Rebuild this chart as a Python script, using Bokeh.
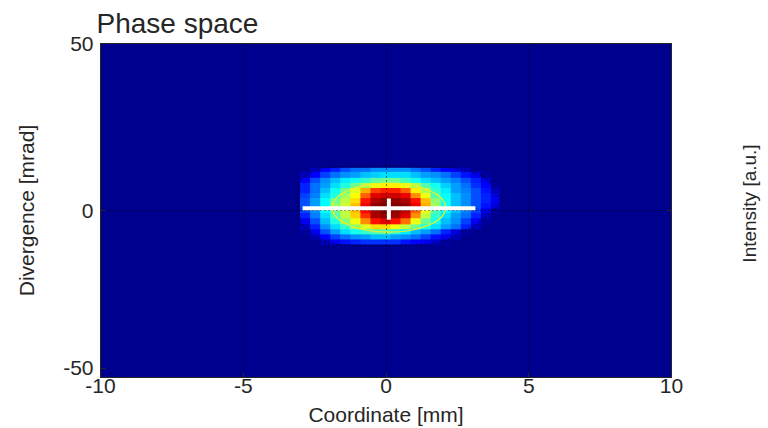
import numpy as np
from math import ceil
from bokeh.plotting import figure
from bokeh.layouts import row
from bokeh.models import LinearColorMapper, FixedTicker, LinearAxis, Range1d
from bokeh.embed import file_html
from bokeh.resources import INLINE

# ---------------- data ----------------
title_text = "Phase space"
x_label = "Coordinate [mm]"
y_label = "Divergence [mrad]"
z_label = "Intensity [a.u.]"
x_lim = (-10, 10)
y_lim = (-50, 50)
x_ticks = [-10, -5, 0, 5, 10]
x_tick_labels = ["-10", "-5", "0", "5", "10"]
y_ticks = [-50, 0, 50]
y_tick_labels = ["-50", "0", "50"]

# intensity cells (rows listed from top to bottom), normalised 0..1
grid_x_start = -3.01
grid_x_step = 0.35
grid_y_top = 12.77
grid_y_step = 1.53
intensity_rows = [
    [0.00, 0.05, 0.12, 0.15, 0.20, 0.22, 0.22, 0.25, 0.25, 0.25, 0.25, 0.22, 0.20, 0.15, 0.12, 0.10, 0.05, 0.00, 0.00, 0.00],
    [0.05, 0.12, 0.18, 0.22, 0.25, 0.28, 0.30, 0.32, 0.33, 0.34, 0.33, 0.30, 0.27, 0.25, 0.22, 0.18, 0.14, 0.10, 0.03, 0.00],
    [0.12, 0.20, 0.25, 0.30, 0.35, 0.38, 0.42, 0.46, 0.48, 0.47, 0.43, 0.38, 0.34, 0.30, 0.27, 0.24, 0.20, 0.15, 0.08, 0.00],
    [0.15, 0.22, 0.28, 0.34, 0.40, 0.47, 0.54, 0.60, 0.64, 0.64, 0.60, 0.54, 0.45, 0.38, 0.32, 0.27, 0.22, 0.17, 0.12, 0.03],
    [0.15, 0.22, 0.31, 0.38, 0.48, 0.58, 0.70, 0.80, 0.84, 0.84, 0.78, 0.64, 0.54, 0.42, 0.35, 0.28, 0.24, 0.20, 0.14, 0.05],
    [0.18, 0.24, 0.33, 0.40, 0.52, 0.62, 0.78, 0.90, 0.92, 0.92, 0.88, 0.72, 0.60, 0.45, 0.36, 0.30, 0.25, 0.20, 0.15, 0.08],
    [0.20, 0.28, 0.36, 0.48, 0.55, 0.65, 0.85, 0.95, 0.97, 0.98, 0.95, 0.85, 0.68, 0.50, 0.38, 0.30, 0.26, 0.20, 0.15, 0.10],
    [0.20, 0.28, 0.37, 0.50, 0.57, 0.68, 0.88, 0.97, 1.00, 1.00, 0.97, 0.88, 0.70, 0.52, 0.38, 0.30, 0.26, 0.20, 0.14, 0.08],
    [0.18, 0.26, 0.36, 0.48, 0.56, 0.68, 0.86, 0.96, 1.00, 0.98, 0.93, 0.78, 0.60, 0.45, 0.36, 0.30, 0.24, 0.18, 0.10, 0.03],
    [0.15, 0.24, 0.34, 0.45, 0.55, 0.66, 0.82, 0.95, 0.97, 0.96, 0.90, 0.72, 0.56, 0.42, 0.34, 0.28, 0.22, 0.15, 0.06, 0.00],
    [0.10, 0.20, 0.30, 0.40, 0.50, 0.60, 0.72, 0.85, 0.90, 0.85, 0.75, 0.60, 0.48, 0.38, 0.30, 0.25, 0.18, 0.10, 0.02, 0.00],
    [0.05, 0.15, 0.25, 0.33, 0.42, 0.50, 0.58, 0.65, 0.65, 0.60, 0.55, 0.48, 0.40, 0.33, 0.28, 0.22, 0.15, 0.05, 0.00, 0.00],
    [0.02, 0.10, 0.20, 0.27, 0.33, 0.38, 0.42, 0.45, 0.45, 0.40, 0.35, 0.30, 0.27, 0.22, 0.15, 0.08, 0.02, 0.00, 0.00, 0.00],
    [0.00, 0.05, 0.12, 0.18, 0.22, 0.25, 0.28, 0.30, 0.30, 0.28, 0.25, 0.22, 0.18, 0.14, 0.10, 0.05, 0.00, 0.00, 0.00, 0.00],
    [0.00, 0.00, 0.05, 0.10, 0.13, 0.15, 0.16, 0.17, 0.17, 0.16, 0.14, 0.12, 0.10, 0.07, 0.03, 0.00, 0.00, 0.00, 0.00, 0.00],
]

# beam centroid cross and rms ellipse
centroid_x = 0.1
centroid_y = 0.7
cross_x_extent = (-2.92, 3.13)
cross_y_extent = (-2.8, 3.6)
ellipse_center = (0.1, 0.85)
ellipse_size = (3.97, 14.7)
contour_level = 0.05

# ---------------- style ----------------
def jet(n=64):
    m = ceil(n / 4)
    u = [(i + 1) / m for i in range(m)] + [1.0] * (m - 1) + [(m - i) / m for i in range(m)]
    g0 = ceil(m / 2) - (1 if n % 4 == 1 else 0)
    R = [0.0] * n; G = [0.0] * n; B = [0.0] * n
    for k in range(len(u)):
        g = g0 + k + 1
        for arr, idx in ((G, g), (R, g + m), (B, g - m)):
            if 1 <= idx <= n:
                arr[idx - 1] = u[k]
    return ["#%02x%02x%02x" % (round(r * 255), round(gg * 255), round(b * 255)) for r, gg, b in zip(R, G, B)]

palette = jet(64)
TXT = "#262626"
FONT = "Liberation Sans"
label_lift = 2.7            # lowest y tick label sits a little above the corner, as in the original

p = figure(frame_width=571, frame_height=334,
           x_range=Range1d(*x_lim), y_range=Range1d(*y_lim),
           output_backend="svg", toolbar_location=None,
           min_border_left=100, min_border_right=50, min_border_top=43, min_border_bottom=51,
           background_fill_color=palette[0], border_fill_color="white")
p.outline_line_color = TXT
p.outline_line_width = 1

# title
p.title.text = title_text
p.title.text_font = FONT
p.title.text_font_size = "28px"
p.title.text_font_style = "normal"
p.title.text_color = TXT
p.title.align = "left"
p.title.offset = -4
p.title.standoff = 9

mapper = LinearColorMapper(palette=palette, low=0, high=1)
Z = np.flipud(np.array(intensity_rows, dtype=float))
ny, nx = Z.shape
y_bottom = grid_y_top - ny * grid_y_step
img = p.image(image=[Z], x=grid_x_start, y=y_bottom, dw=nx * grid_x_step, dh=ny * grid_y_step,
              color_mapper=mapper)
img.level = "image"

# low-level contour around the beam
Zp = np.pad(Z, 1)
xc = grid_x_start + (np.arange(nx + 2) - 0.5) * grid_x_step
yc = y_bottom + (np.arange(ny + 2) - 0.5) * grid_y_step
p.contour(xc, yc, Zp, levels=[contour_level], line_color="black", line_dash="1 3", line_width=1.2)

# grid
for g, ticks in ((p.xgrid, x_ticks), (p.ygrid, y_ticks)):
    g.ticker = FixedTicker(ticks=ticks)
    g.grid_line_color = "black"
    g.grid_line_dash = "1 3"
    g.grid_line_width = 1

# rms ellipse and centroid cross
p.ellipse(x=[ellipse_center[0]], y=[ellipse_center[1]], width=[ellipse_size[0]], height=[ellipse_size[1]],
          fill_color=None, line_color="#f0f020", line_width=1.2)
p.segment(x0=[cross_x_extent[0], centroid_x], y0=[centroid_y, cross_y_extent[0]],
          x1=[cross_x_extent[1], centroid_x], y1=[centroid_y, cross_y_extent[1]],
          line_color="white", line_width=4)

# axes
xa = p.xaxis[0]
xa.ticker = FixedTicker(ticks=x_ticks)
xa.major_label_overrides = dict(zip(x_ticks, x_tick_labels))
ya = p.yaxis[0]
y_label_pos = [y_ticks[0] + label_lift] + y_ticks[1:]
ya.ticker = FixedTicker(ticks=y_label_pos)
ya.major_label_overrides = dict(zip(y_label_pos, y_tick_labels))
xa.axis_label = x_label
ya.axis_label = y_label

right = LinearAxis(ticker=FixedTicker(ticks=y_ticks))
p.add_layout(right, "right")

for ax in (xa, ya, right):
    ax.major_tick_in = 5
    ax.major_tick_out = 0
    ax.minor_tick_line_color = None
    ax.axis_line_color = TXT
    ax.major_tick_line_color = TXT
    ax.major_label_text_font = FONT
    ax.major_label_text_font_size = "21px"
    ax.major_label_text_color = TXT
    ax.axis_label_text_font = FONT
    ax.axis_label_text_font_size = "21px"
    ax.axis_label_text_font_style = "normal"
    ax.axis_label_text_color = TXT
xa.major_label_standoff = 1
xa.axis_label_standoff = 7
ya.major_label_standoff = 7
ya.axis_label_standoff = 22
right.major_label_text_color = None
right.major_label_text_font_size = "11px"
right.major_label_standoff = 0

# colour-scale label strip to the right (its own empty panel, label reads bottom to top)
q = figure(frame_width=9, frame_height=320, output_backend="svg", toolbar_location=None,
           min_border_left=38, min_border_right=0, min_border_top=43, min_border_bottom=65,
           x_axis_location=None, background_fill_color=None, border_fill_color="white",
           x_range=Range1d(0, 1), y_range=Range1d(0, 1))
q.outline_line_color = None
q.grid.visible = False
qa = q.yaxis[0]
qa.ticker = FixedTicker(ticks=[])
qa.axis_line_color = None
qa.major_tick_line_color = None
qa.minor_tick_line_color = None
qa.axis_label = z_label
qa.axis_label_text_font = FONT
qa.axis_label_text_font_size = "19px"
qa.axis_label_text_font_style = "normal"
qa.axis_label_text_color = TXT
qa.axis_label_standoff = 0

layout = row(p, q, spacing=0)
open("out.html", "w").write(file_html(layout, INLINE))
